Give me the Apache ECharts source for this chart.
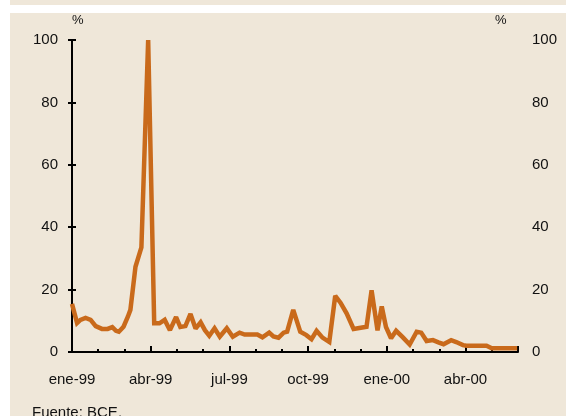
<!DOCTYPE html>
<html><head><meta charset="utf-8">
<script src="https://cdn.jsdelivr.net/npm/echarts@6/dist/echarts.min.js"></script>
<style>
html,body{margin:0;padding:0;background:#fff;}
#strip{position:absolute;left:10px;top:0;width:556px;height:5px;background:#EFE7D9;}
#panel{position:absolute;left:10px;top:13px;width:556px;height:403px;background:#EFE7D9;}
#chart{position:absolute;left:0;top:0;width:566px;height:416px;}
</style></head><body>
<div id="strip"></div><div id="panel"></div><div id="chart"></div>
<script>
const dates = [
 '1999-01-01','1999-01-07','1999-01-11','1999-01-17','1999-01-23','1999-01-29',
 '1999-02-05','1999-02-11','1999-02-16','1999-02-20','1999-02-23','1999-02-28',
 '1999-03-05','1999-03-08','1999-03-14','1999-03-21','1999-03-29',
 '1999-04-05','1999-04-11','1999-04-17','1999-04-19','1999-04-23','1999-04-30',
 '1999-05-05','1999-05-11','1999-05-17','1999-05-23','1999-05-29',
 '1999-06-03','1999-06-08','1999-06-14','1999-06-20','1999-06-28',
 '1999-07-05','1999-07-13','1999-07-19',
 '1999-08-03','1999-08-09','1999-08-17','1999-08-22','1999-08-28',
 '1999-09-03','1999-09-07','1999-09-14','1999-09-22','1999-09-29',
 '1999-10-05','1999-10-11','1999-10-18','1999-10-26',
 '1999-11-02','1999-11-08','1999-11-15','1999-11-23',
 '1999-12-08','1999-12-14','1999-12-21','1999-12-26','1999-12-31',
 '2000-01-06','2000-01-12','2000-01-20','2000-01-28',
 '2000-02-05','2000-02-10','2000-02-16','2000-02-23','2000-02-29',
 '2000-03-06','2000-03-15','2000-03-21','2000-03-29',
 '2000-04-02','2000-04-25','2000-05-01','2000-05-31'
];
const values = [
 15.4, 9.3, 10.3, 10.9, 10.3, 8.3,
 7.4, 7.4, 8.0, 6.8, 6.5, 8.1,
 11.3, 13.5, 27.3, 33.5, 100,
 9.2, 9.2, 10.3, 9.7, 7.0, 11.2,
 8.0, 8.3, 12.2, 7.5, 9.5,
 7.0, 5.2, 7.6, 4.9, 7.6,
 4.9, 6.2, 5.6,
 5.6, 4.7, 6.2, 5.0, 4.6,
 6.2, 6.5, 13.5, 6.5, 5.4,
 4.1, 6.8, 4.6, 3.2,
 18.0, 15.8, 12.4, 7.4,
 8.1, 19.8, 6.9, 14.6, 8.0,
 4.4, 6.8, 4.7, 2.4,
 6.5, 6.2, 3.5, 3.8, 3.1,
 2.5, 3.8, 3.2, 2.2,
 2.0, 2.0, 1.2, 1.2
];
const monthLabels = ['ene-99','abr-99','jul-99','oct-99','ene-00','abr-00'];
const yMin = 0, yMax = 100, yStep = 20;
const xStart = 1999, xMonths = 17;

function monthIndex(s){
  const p = s.split('-').map(Number);
  const dim = new Date(p[0], p[1], 0).getDate();
  return (p[0]-xStart)*12 + (p[1]-1) + (p[2]-1)/dim;
}
const seriesData = dates.map((d,i)=>[monthIndex(d), values[i]]);

const black = '#000';
const font = 'Liberation Sans, Arial, sans-serif';
const chart = echarts.init(document.getElementById('chart'), null, {renderer:'canvas'});
chart.setOption({
  animation:false,
  backgroundColor:'transparent',
  grid:{left:72, right:48, top:40, bottom:64, containLabel:false},
  xAxis:[{
    type:'value', min:0, max:xMonths, interval:1, position:'bottom',
    axisLine:{show:true, lineStyle:{color:black, width:2}},
    axisTick:{show:true, inside:true, length:3, lineStyle:{color:black, width:2}},
    axisLabel:{show:false}, splitLine:{show:false}
  },{
    type:'value', min:0, max:xMonths, interval:3, position:'bottom',
    axisLine:{show:false},
    axisTick:{show:true, inside:true, length:6, lineStyle:{color:black, width:2}},
    axisLabel:{show:true, margin:20, fontSize:15, color:'#111', fontFamily:font,
      formatter:function(v){ const k=Math.round(v); return (k%3===0 && k/3<monthLabels.length)? monthLabels[k/3] : ''; }},
    splitLine:{show:false}
  }],
  yAxis:[{
    type:'value', position:'left', min:yMin, max:yMax, interval:yStep,
    axisLine:{show:true, lineStyle:{color:black, width:2}},
    axisTick:{show:true, inside:true, length:4, lineStyle:{color:black, width:2}},
    axisLabel:{margin:14, fontSize:15, color:'#111', fontFamily:font},
    splitLine:{show:false}
  },{
    type:'value', position:'right', min:yMin, max:yMax, interval:yStep,
    axisLine:{show:true, lineStyle:{color:black, width:2}},
    axisTick:{show:true, inside:true, length:4, lineStyle:{color:black, width:2}},
    axisLabel:{margin:14, fontSize:15, color:'#111', fontFamily:font},
    splitLine:{show:false}
  }],
  graphic:[
    {type:'text', left:72, top:14, style:{text:'%', fontSize:13, fill:'#111', fontFamily:font}},
    {type:'text', left:495, top:14, style:{text:'%', fontSize:13, fill:'#111', fontFamily:font}},
    {type:'text', left:32, top:405, style:{text:'Fuente: BCE.', fontSize:15, fill:'#111', fontFamily:font}}
  ],
  series:[{
    type:'line', xAxisIndex:0, yAxisIndex:0, data:seriesData,
    showSymbol:false, symbol:'none', smooth:false,
    lineStyle:{color:'#C96A1B', width:4.5, join:'miter', miterLimit:2},
    z:1
  }]
});
</script>
</body></html>
